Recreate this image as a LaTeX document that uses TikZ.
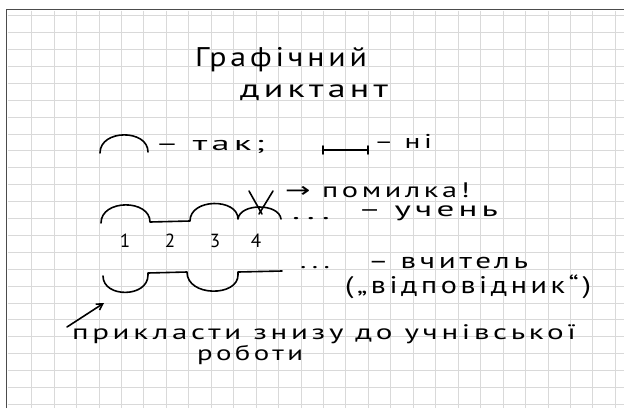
\documentclass[tikz,border=0pt]{standalone}
\usepackage{fontspec}
\usepackage{graphicx}
\setmainfont{PT Sans}
\newfontfamily\arrowfont{DejaVu Sans}
\usetikzlibrary{arrows.meta}
\definecolor{gridgray}{gray}{0.85}
\definecolor{framegray}{gray}{0.3}
\newcommand{\hw}[3]{\resizebox{#1pt}{\height}{\fontsize{#2}{#2}\selectfont\addfontfeature{LetterSpace=12}#3}}
\begin{document}
\begin{tikzpicture}[x=1pt,y=-1pt,
  ink/.style={line width=1.6pt, black, line cap=round, line join=round},
  gridline/.style={line width=0.9pt, color=gridgray},
  hand/.style={anchor=base west, inner sep=0pt, outer sep=0pt, text=black},
  digit/.style={anchor=base, inner sep=0pt, outer sep=0pt, text=black, font=\fontsize{19}{19}\selectfont}]
\useasboundingbox (0,0) rectangle (624,408);
\fill[white] (0,0) rectangle (624,408);
% grid
\foreach \i in {0,...,26} \draw[gridline] ({31.6+22.45*\i},10.5) -- ({31.6+22.45*\i},408);
\foreach \j in {0,...,23} \draw[gridline] (7.5,{15.7+16.9*\j}) -- (624,{15.7+16.9*\j});
% frame
\draw[framegray, line width=1.5pt] (6.5,408) -- (6.5,9.5) -- (624,9.5);
% title
\node[hand] (title1) at (195,66) {\hw{172}{27}{Графічний}};
\node[hand] (title2) at (240,97) {\hw{148}{25}{диктант}};
% legend
\draw[ink] (100,153) .. controls (100,129) and (148,129) .. (148,152);
\node[hand] (tak) at (155,150) {\hw{110}{20}{– так;}};
\draw[ink] (323,150) -- (368,150);
\draw[ink] (323,146) -- (323,154);
\draw[ink] (368,146) -- (368,154);
\node[hand] (ni) at (374,148) {\hw{58}{20}{– ні}};
% student row
\draw[ink] (101,223) .. controls (101,199) and (150,199) .. (150,222) -- (190,221)
  .. controls (190,198) and (238,198) .. (238,219)
  .. controls (240,203) and (279,203) .. (281,219);
\draw[ink] (249,191) -- (262,214);
\draw[ink] (273,191) -- (259,214);
\node[hand] (pomylka) at (285,197) {\hw{185}{21}{{\arrowfont →} помилка!}};
\node[hand] (dots1) at (292,219) {\hw{38}{20}{...}};
\node[hand] (uchen) at (358,216) {\hw{140}{21}{– учень}};
% numbers
\node[digit] (n1) at (125,247) {1};
\node[digit] (n2) at (170,247) {2};
\node[digit] (n3) at (215,247) {3};
\node[digit] (n4) at (256,247) {4};
% teacher row
\draw[ink] (103,276) .. controls (103,298) and (148,298) .. (148,275) -- (148,273) -- (187,272)
  .. controls (187,297) and (238,297) .. (238,275) -- (238,272) -- (282,271);
\node[hand] (dots2) at (300,268) {\hw{30}{20}{...}};
\node[hand] (vchytel) at (368,268) {\hw{160}{22}{– вчитель}};
\node[hand] (vidp) at (345,293) {\hw{246}{24}{(„відповідник“)}};
% bottom note
\coordinate (arrS) at (67,327);
\coordinate (arrE) at (104,303);
\draw[ink, -{Straight Barb[length=6pt,width=7pt]}] (arrS) -- (arrE);
\node[hand] (prykl) at (72,339) {\hw{504}{21}{прикласти знизу до учнівської}};
\node[hand] (robot) at (197,360) {\hw{106}{21}{роботи}};
\end{tikzpicture}
\end{document}
